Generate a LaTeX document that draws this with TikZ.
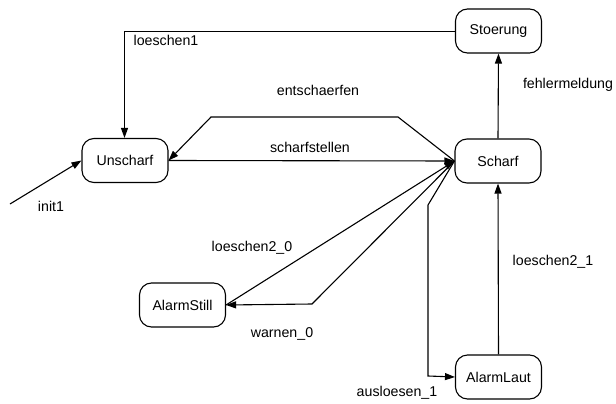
\documentclass[tikz,border=0pt]{standalone}
\usepackage{fontspec}
\setmainfont{Liberation Sans}
\usetikzlibrary{arrows.meta}
\begin{document}
\begin{tikzpicture}[x=1pt,y=-1pt,
  state/.style={draw,line width=1.1pt,rounded corners=12pt,minimum width=86pt,minimum height=44pt,inner sep=0pt,font=\fontsize{14.2}{16}\selectfont},
  lbl/.style={font=\fontsize{14.2}{16}\selectfont,inner sep=0pt},
  edge/.style={line width=1.1pt,-{Triangle[length=10pt,width=7pt]}},
  plain/.style={line width=1.1pt}]
\useasboundingbox (0,0) rectangle (616,404);
\node[state] (Stoerung) at (498.5,31) {Stoerung};
\node[state] (Scharf) at (498,161) {Scharf};
\node[state] (Unscharf) at (125,160.5) {Unscharf};
\node[state] (AlarmStill) at (182.5,305) {AlarmStill};
\node[state] (AlarmLaut) at (498.5,377) {AlarmLaut};
\coordinate (i0) at (10,204);
\coordinate (e1) at (398,117);
\coordinate (e2) at (211,117);
\coordinate (w1) at (312,304);
\coordinate (a1) at (428,205);
\coordinate (a2) at (428,376);
\coordinate (s1) at (124.5,31.5);
% edges
\draw[edge] (i0) -- (Unscharf.west);
\draw[edge] (Stoerung.west |- s1) -- (s1) -- (s1 |- Unscharf.north);
\draw[edge] (Scharf.west) -- (e1) -- (e2) -- (Unscharf.east);
\draw[edge] (Unscharf.east) -- (Scharf.west);
\draw[edge] (Scharf.north) -- (Stoerung.south);
\draw[edge] (AlarmStill.east) -- (Scharf.west);
\draw[edge] (Scharf.west) -- (w1) -- (AlarmStill.east);
\draw[edge] (Scharf.west) -- (a1) -- (a2) -- (AlarmLaut.west);
\draw[edge] (AlarmLaut.north) -- (Scharf.south);
% labels
\node[lbl] (l1) at (166,40) {loeschen1};
\node[lbl] (l2) at (318,90) {entschaerfen};
\node[lbl] (l3) at (310,147) {scharfstellen};
\node[lbl] (l4) at (568,85) {fehlermeldung};
\node[lbl] (l5) at (252,248) {loeschen2\_0};
\node[lbl] (l6) at (282,334) {warnen\_0};
\node[lbl] (l7) at (397,393) {ausloesen\_1};
\node[lbl] (l8) at (553,262) {loeschen2\_1};
\node[lbl] (l9) at (51,206) {init1};
\end{tikzpicture}
\end{document}
